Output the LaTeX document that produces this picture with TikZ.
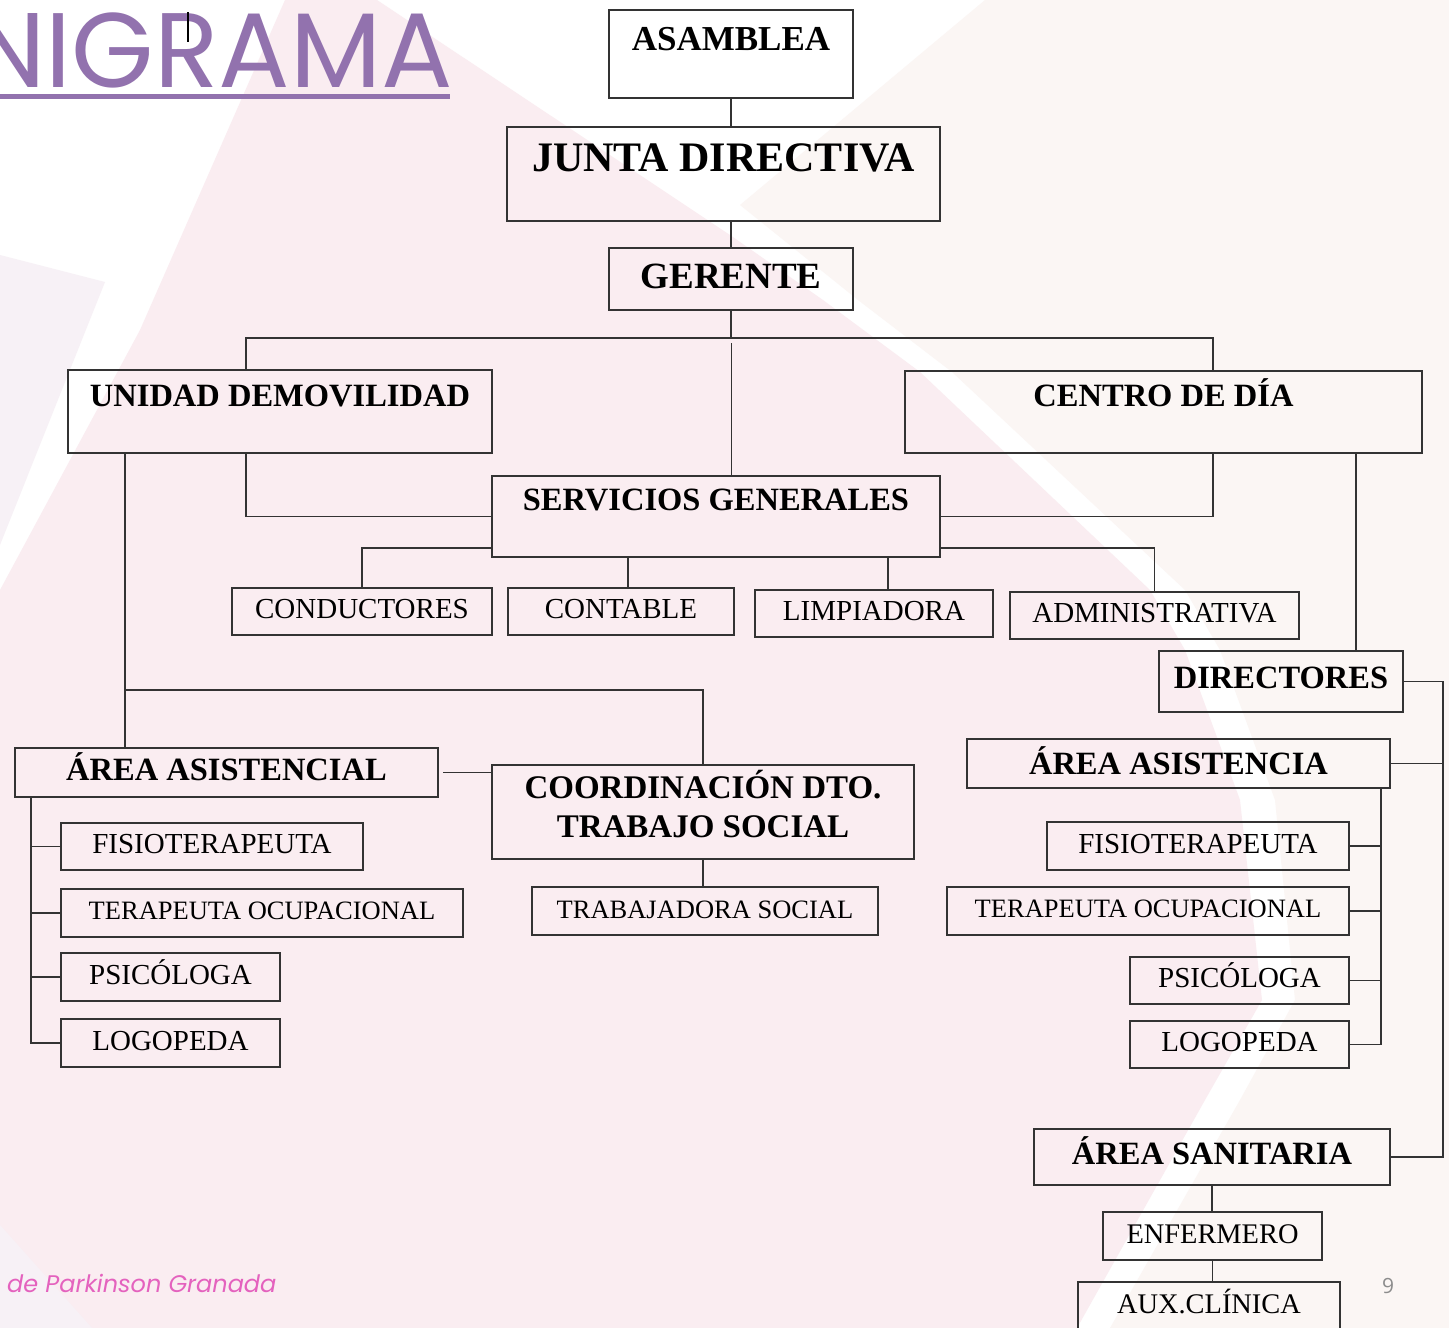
\documentclass[tikz,border=0pt]{standalone}
\usepackage{fontspec}
\setmainfont{Liberation Serif}
\newfontfamily\titulofont{Poppins}
\newfontfamily\numfont{Open Sans}

\definecolor{rosa}{HTML}{FAEDF1}
\definecolor{crema}{HTML}{FBF6F4}
\definecolor{lila}{HTML}{F7F1F6}
\definecolor{morado}{HTML}{9272AE}
\definecolor{fucsia}{HTML}{E462BE}
\definecolor{gris}{HTML}{8C8C8C}

\tikzset{
  caja/.style = {draw=black!80, line width=1.6pt, inner sep=0pt, outer sep=0pt,
    anchor=north west, align=center},
  jefe/.style = {caja, font=\bfseries\fontsize{32.5}{39}\selectfont},% cargo
  puesto/.style = {caja, font=\fontsize{29}{35}\selectfont},% puesto
  largo/.style = {caja, font=\fontsize{26.5}{32}\selectfont},% puesto largo
  linea/.style = {draw=black!80, line width=1.6pt}
}

\begin{document}
\begin{tikzpicture}[x=1pt,y=-1pt]
  \useasboundingbox (0,0) rectangle (1449,1328);
  % fondo
  \fill [white] (0,0) rectangle (1449,1328);
  \fill [crema] (985,0) -- (1449,0) -- (1449,1328) -- (1110,1328) -- (1240,1100)
    -- (1295,1000) -- (1275,800) -- (1220,650) -- (1185,590) -- (952,372)
    -- (858,300) -- (740,205) -- cycle;
  \fill [rosa] (285,0) -- (377,0) -- (730,235) -- (823,300) -- (920,372)
    -- (1150,590) -- (1185,650) -- (1240,800) -- (1262,1000) -- (1205,1100)
    -- (1077,1328) -- (0,1328) -- (0,590) -- (140,330) -- cycle;
  \fill [lila] (0,255) -- (105,282) -- (0,545) -- cycle;
  \fill [lila] (0,1225) -- (92,1328) -- (0,1328) -- cycle;

  % titulo y pie
  \node [anchor=base east, inner sep=0pt, text=morado,
    font=\titulofont\fontsize{106}{106}\selectfont] (titulo) at (453,87) {NIGRAMA};
  \fill [morado] (0,94) rectangle (450,99);
  \draw [line width=2.5pt] (188,12) -- (188,42);
  \node [anchor=base west, inner sep=0pt, text=fucsia,
    font=\titulofont\itshape\fontsize{24}{24}\selectfont] (pie) at (7,1292) {de Parkinson Granada};
  \node [anchor=base, inner sep=0pt, text=gris,
    font=\numfont\fontsize{21}{21}\selectfont] (pagina) at (1388,1293) {9};

  % cajas
  \node [jefe, minimum width=244pt, text height=40pt, text depth=48pt,
    font=\bfseries\fontsize{35}{40}\selectfont] (asam) at (609,10) {ASAMBLEA};
  \node [jefe, minimum width=433pt, text height=44pt, text depth=50pt,
    font=\bfseries\fontsize{42}{48}\selectfont] (junta) at (507,127) {JUNTA DIRECTIVA};
  \node [jefe, minimum width=244pt, text height=40pt, text depth=22pt,
    font=\bfseries\fontsize{37}{42}\selectfont] (ger) at (609,248) {GERENTE};
  \node [jefe, minimum width=424pt, text height=36pt, text depth=47pt] (unid) at (68,370) {UNIDAD DEMOVILIDAD};
  \node [jefe, minimum width=517pt, text height=35pt, text depth=47pt] (centro) at (905,371) {CENTRO DE DÍA};
  \node [jefe, minimum width=448pt, text height=34pt, text depth=47pt] (serv) at (492,476) {SERVICIOS GENERALES};

  \node [puesto, minimum width=260pt, text height=30pt, text depth=17pt] (cond) at (232,588) {CONDUCTORES};
  \node [puesto, minimum width=226pt, text height=30pt, text depth=17pt] (cont) at (508,588) {CONTABLE};
  \node [puesto, minimum width=238pt, text height=30pt, text depth=17pt] (limp) at (755,590) {LIMPIADORA};
  \node [puesto, minimum width=289pt, text height=30pt, text depth=17pt] (admin) at (1010,592) {ADMINISTRATIVA};

  \node [jefe, minimum width=244pt, text height=37pt, text depth=24pt] (dir) at (1159,651) {DIRECTORES};
  \node [jefe, minimum width=423pt, text height=32pt, text depth=17pt] (aasis) at (15,748) {ÁREA ASISTENCIAL};
  \node [jefe, minimum width=422pt, text height=72pt, text depth=22pt,
    font=\bfseries\fontsize{33}{39}\selectfont] (coord) at (492,765) {COORDINACIÓN DTO.\\TRABAJO SOCIAL};
  \node [largo, minimum width=346pt, text height=31pt, text depth=17pt] (trab) at (532,887) {TRABAJADORA SOCIAL};
  \node [jefe, minimum width=423pt, text height=35pt, text depth=14pt] (ra) at (967,739) {ÁREA ASISTENCIA};

  \node [puesto, minimum width=302pt, text height=30pt, text depth=17pt] (lf) at (61,823) {FISIOTERAPEUTA};
  \node [largo, minimum width=402pt, text height=30pt, text depth=18pt] (lt) at (61,889) {TERAPEUTA OCUPACIONAL};
  \node [puesto, minimum width=219pt, text height=31pt, text depth=17pt] (lp) at (61,953) {PSICÓLOGA};
  \node [puesto, minimum width=219pt, text height=31pt, text depth=17pt] (ll) at (61,1019) {LOGOPEDA};

  \node [puesto, minimum width=302pt, text height=31pt, text depth=17pt] (rf) at (1047,822) {FISIOTERAPEUTA};
  \node [largo, minimum width=402pt, text height=30pt, text depth=18pt] (rt) at (947,887) {TERAPEUTA OCUPACIONAL};
  \node [puesto, minimum width=219pt, text height=30pt, text depth=17pt] (rp) at (1130,957) {PSICÓLOGA};
  \node [puesto, minimum width=219pt, text height=30pt, text depth=17pt] (rl) at (1130,1021) {LOGOPEDA};

  \node [jefe, minimum width=356pt, text height=35pt, text depth=21pt] (san) at (1034,1129) {ÁREA SANITARIA};
  \node [puesto, minimum width=219pt, text height=31pt, text depth=17pt,
    font=\fontsize{28.4}{34}\selectfont] (enf) at (1103,1212) {ENFERMERO};
  \node [puesto, minimum width=262pt, text height=31pt, text depth=40pt,
    font=\fontsize{28.4}{34}\selectfont] (aux) at (1078,1282) {AUX.CLÍNICA};

  % conexiones
  \coordinate (barra) at (731,338);
  \coordinate (bI) at (246,338);
  \coordinate (bD) at (1213,338);
  \coordinate (tI) at (125,690);
  \coordinate (rI) at (31,0);
  \coordinate (xdir) at (1356,0);
  \coordinate (xext) at (1443,0);
  \coordinate (rD) at (1381,0);

  \foreach \de/\a in {asam/junta,coord/trab,san/enf,enf/aux}
    \draw [linea] (\de.south) -- (\de.south |- \a.north);
  \draw [linea] (ger.north |- junta.south) -- (ger.north);
  \draw [linea] (ger.south) -- (barra);
  \draw [linea] (bI |- unid.north) -- (bI) -- (bD) -- (bD |- centro.north);
  \draw [linea, line width=0.9pt] ([yshift=-5pt]barra) -- (serv.north -| barra);
  \draw [linea] (unid.south -| bI) |- (serv.west);
  \draw [linea] (centro.south -| bD) |- (serv.east);
  \draw [linea] ([yshift=9pt]serv.south west) -| (cond.north);
  \draw [linea] ([yshift=9pt]serv.south east) -| (admin.north);
  \draw [linea] ([xshift=7pt]cont.north) -- ([xshift=7pt]cont.north |- serv.south);
  \draw [linea] ([xshift=14pt]limp.north) -- ([xshift=14pt]limp.north |- serv.south);

  \draw [linea] (unid.south -| tI) -- (aasis.north -| tI);
  \draw [linea] (tI) -| (coord.north);
  \draw [linea] ([xshift=5pt]aasis.east) -- (aasis.east -| coord.west);
  \foreach \n in {lf,lt,lp,ll}
    \draw [linea] (aasis.south -| rI) |- (\n.west);

  \draw [linea] (centro.south -| xdir) -- (dir.north -| xdir);
  \draw [linea] (dir.east) -- (dir.east -| xext) |- (san.east);
  \draw [linea] (ra.east) -- (ra.east -| xext);
  \foreach \n in {rf,rt,rp,rl}
    \draw [linea] (ra.south -| rD) |- (\n.east);
\end{tikzpicture}
\end{document}
